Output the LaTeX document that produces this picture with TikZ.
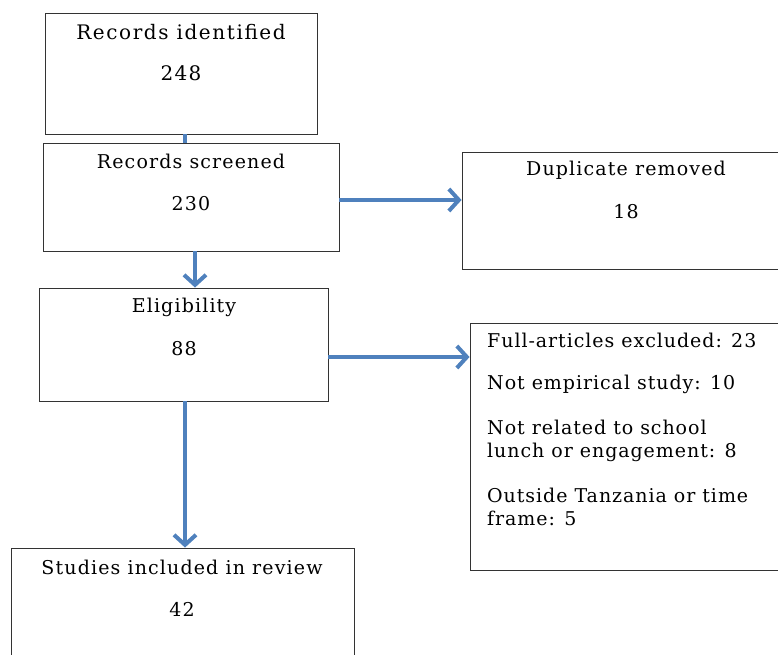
\documentclass[tikz,border=0pt]{standalone}
\usepackage{fontspec}
\setmainfont{DejaVu Serif}[LetterSpace=6]
\usetikzlibrary{arrows.meta}
\definecolor{flowblue}{HTML}{4F81BD}
\tikzset{
  box/.style={draw=black!80, line width=0.9pt, minimum width=#1, inner sep=0pt},
  head/.style={font=\fontsize{19}{23}\selectfont},
  flow/.style={draw=flowblue, line width=4pt, -{Straight Barb[length=10pt,width=22pt]}}
}
\begin{document}
\begin{tikzpicture}[x=1pt,y=-1pt]
    \useasboundingbox (0,0) rectangle (778,655);
    \clip (0,0) rectangle (778,655);
    % boxes
    \node[box=272pt, minimum height=121pt] (ident) at (181,73.5) {};
    \node[box=296pt, minimum height=108pt] (screen) at (191,197) {};
    \node[box=328pt, minimum height=117pt] (dup) at (626,210.5) {};
    \node[box=289pt, minimum height=113pt] (elig) at (183.5,344.5) {};
    \node[box=343pt, minimum height=122pt] (incl) at (182.5,609) {};
    \node[box=320pt, minimum height=247pt] (excl) at (630,446.5) {};
    % texts
    \node[head, font=\fontsize{20}{24}\selectfont\addfontfeatures{LetterSpace=8}] (identT) at (181,32) {Records identified};
    \node[head, font=\fontsize{20}{24}\selectfont] (identN) at (181,73) {248};
    \node[head] (screenT) at (191,161) {Records screened};
    \node[head] (screenN) at (191,203.5) {230};
    \node[head] (dupT) at (626,170) {Duplicate removed};
    \node[head] (dupN) at (626,212) {18};
    \node[head] (eligT) at (184,307) {Eligibility};
    \node[head] (eligN) at (184,349) {88};
    \node[head] (inclT) at (182,567) {Studies included in review};
    \node[head] (inclN) at (182,609) {42};
    \node[head, anchor=north west, align=left, inner sep=0pt,
          font=\fontsize{19}{23}\selectfont\addfontfeatures{LetterSpace=5}] (exclT) at (487,333)
      {Full-articles excluded: 23\\[19pt]
       Not empirical study: 10\\[22pt]
       Not related to school\\
       lunch or engagement: 8\\[22pt]
       Outside Tanzania or time\\
       frame: 5};
    % connectors
    \draw[flow, -] ([xshift=4pt]ident.south) -- ([xshift=4pt]ident.south |- screen.north);
    \draw[flow] ([yshift=-3pt]screen.east) -- ([yshift=-3pt]screen.east -| dup.west);
    \draw[flow] ([xshift=4pt]screen.south) -- ([xshift=4pt]screen.south |- elig.north);
    \draw[flow] ([yshift=-12.5pt]elig.east) -- ([yshift=-12.5pt]elig.east -| excl.west);
    \draw[flow] ([xshift=1.5pt]elig.south) -- ([xshift=1.5pt]elig.south |- incl.north);
\end{tikzpicture}
\end{document}
